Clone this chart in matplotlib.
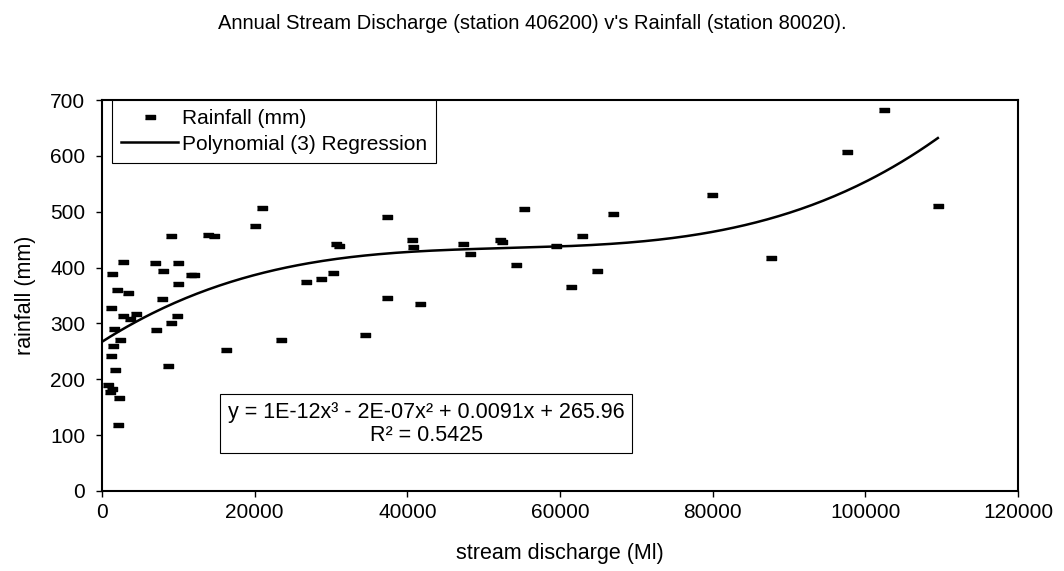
import numpy as np
import matplotlib
matplotlib.use('Agg')
from matplotlib import pyplot as plt

plt.rcParams['font.family'] = ['Liberation Sans', 'DejaVu Sans']

# annual stream discharge (Ml) and rainfall (mm)
discharge = [800, 1000, 1300, 2200, 2100, 1700, 1200, 1400, 2400, 1600,
             2700, 3700, 4400, 1200, 2000, 3400, 1300, 2700,
             7000, 8000, 9900, 11600, 12100, 9900, 7800, 9800, 9000, 7100,
             8600, 9100, 13900, 14700, 16300, 20000, 21000, 23500,
             26700, 28700, 30200, 30700, 31000, 34400, 37300, 37400,
             40600, 40800, 41600, 47300, 48200, 52100, 52400, 54200,
             55300, 59500, 61500, 62900, 64900, 66900, 79900, 87600,
             97600, 102400, 109500]
rainfall = [189, 177, 183, 166, 119, 216, 242, 260, 271, 290,
            313, 308, 317, 328, 360, 354, 388, 410,
            408, 394, 408, 387, 387, 370, 344, 313, 301, 289,
            223, 456, 458, 457, 252, 475, 506, 270,
            375, 380, 390, 443, 438, 280, 346, 491,
            449, 437, 335, 443, 425, 449, 446, 405,
            504, 438, 366, 456, 394, 496, 530, 418,
            607, 682, 510]

x_ticks = [0, 20000, 40000, 60000, 80000, 100000, 120000]
y_ticks = [0, 100, 200, 300, 400, 500, 600, 700]

title = "Annual Stream Discharge (station 406200) v's Rainfall (station 80020)."
equation = "y = 1E-12x\u00b3 - 2E-07x\u00b2 + 0.0091x + 265.96\nR\u00b2 = 0.5425"

# polynomial (3) regression through the data
coef = np.polyfit(discharge, rainfall, 3)
xs = np.linspace(0, max(discharge), 300)
ys = np.polyval(coef, xs)

fig = plt.figure(figsize=(10.64, 5.71), dpi=100)
ax = fig.add_axes([102 / 1064, 1 - 491 / 571, 916 / 1064, 391 / 571])

dash = [(-1, -0.45), (1, -0.45), (1, 0.45), (-1, 0.45)]
ax.plot(discharge, rainfall, linestyle='none', marker=dash, markersize=7,
        color='black', label='Rainfall (mm)')
ax.plot(xs, ys, color='black', linewidth=1.8, label='Polynomial (3) Regression')

ax.set_xlim(0, 120000)
ax.set_ylim(0, 700)
ax.set_xticks(x_ticks)
ax.set_yticks(y_ticks)
ax.tick_params(labelsize=15, direction='out', length=4, width=1)
ax.tick_params(axis='y', pad=8)
ax.tick_params(axis='x', pad=5)
for s in ax.spines.values():
    s.set_linewidth(1.5)

ax.set_xlabel('stream discharge (Ml)', fontsize=15.5, labelpad=15)
ax.set_ylabel('rainfall (mm)', fontsize=15.5, labelpad=10)
fig.text(0.5, 0.958, title, ha='center', va='center', fontsize=14.5)

leg = ax.legend(loc='upper left', bbox_to_anchor=(0.011, 1.0), fontsize=15,
                handlelength=2.7, handletextpad=0.2, borderaxespad=0,
                fancybox=False, framealpha=1, edgecolor='black',
                borderpad=0.45, labelspacing=0.3)
leg.get_frame().set_linewidth(0.8)

ax.text(0.354, 0.172, equation, transform=ax.transAxes, ha='center',
        va='center', fontsize=15.5, multialignment='center', linespacing=1.15,
        bbox=dict(boxstyle='square,pad=0.35', facecolor='white',
                  edgecolor='black', linewidth=0.8))

fig.savefig('out.png', dpi=100)
